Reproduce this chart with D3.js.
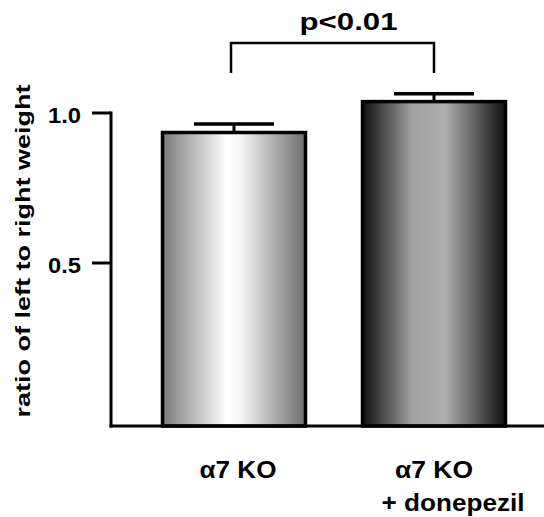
<!DOCTYPE html>
<html>
<head>
<meta charset="utf-8">
<script src="https://cdn.jsdelivr.net/npm/d3@7"></script>
<style>
body { margin: 0; background: #fff; }
text { font-family: Arial, "Liberation Sans", sans-serif; font-weight: bold; }
</style>
</head>
<body>
<div id="viz"></div>
<script>
var groups = ["a7ko", "a7ko_donepezil"];
var groupLabels = [["\u03b17 KO"], ["\u03b17 KO", "+ donepezil"]];
var means = [0.94, 1.043];
var sems = [0.023, 0.021];
var yTicks = [0.5, 1.0];
var pText = "p<0.01";
var yTitle = "ratio of left to right weight";

var width = 544, height = 517;

var svg = d3.select("#viz")
        .append("svg")
        .attr("width", width)
        .attr("height", height);

var defs = svg.append("defs");
var g1 = defs.append("linearGradient").attr("id", "grad0");
[["0%", "#7a7a7a"], ["45%", "#ffffff"], ["55%", "#f4f4f4"], ["100%", "#6c6c6c"]].forEach(function(s) {
    g1.append("stop").attr("offset", s[0]).attr("stop-color", s[1]);
});
var g2 = defs.append("linearGradient").attr("id", "grad1");
[["0%", "#0e0e0e"], ["35%", "#a2a2a2"], ["58%", "#adadad"], ["100%", "#111111"]].forEach(function(s) {
    g2.append("stop").attr("offset", s[0]).attr("stop-color", s[1]);
});

// the reference font is wide, so stretch text to the measured widths
function wide(sel, w) {
    return sel.attr("textLength", w).attr("lengthAdjust", "spacingAndGlyphs");
}

// y scale: 0 sits a bit above the drawn x-axis line
var y = d3.scaleLinear().domain([0, 1]).range([413, 113]);
var baseY = 426;
var axisX = 111;

var x = d3.scaleBand().domain(groups).range([111, 557]).paddingInner(0.27).paddingOuter(0.25);
function cx(i) { return x(groups[i]) + x.bandwidth() / 2; }

// bars
svg.selectAll("rect.bar")
    .data(means)
    .enter()
    .append("rect")
    .attr("class", "bar")
    .attr("x", function(d, i) { return x(groups[i]) + 1.5; })
    .attr("y", function(d) { return y(d) + 1.5; })
    .attr("width", x.bandwidth() - 3)
    .attr("height", function(d) { return baseY - y(d) - 1.5; })
    .style("fill", function(d, i) { return "url(#grad" + i + ")"; })
    .style("stroke", "black")
    .style("stroke-width", 3.5);

// error bars
var eb = svg.selectAll("g.err")
    .data(means)
    .enter()
    .append("g")
    .attr("class", "err");
eb.append("line")
    .attr("x1", function(d, i) { return cx(i); })
    .attr("x2", function(d, i) { return cx(i); })
    .attr("y1", function(d) { return y(d); })
    .attr("y2", function(d, i) { return y(d + sems[i]); })
    .style("stroke", "black").style("stroke-width", 3);
eb.append("line")
    .attr("x1", function(d, i) { return cx(i) - 40; })
    .attr("x2", function(d, i) { return cx(i) + 40; })
    .attr("y1", function(d, i) { return y(d + sems[i]); })
    .attr("y2", function(d, i) { return y(d + sems[i]); })
    .style("stroke", "black").style("stroke-width", 3.5);

// axes
svg.append("line")
    .attr("x1", axisX).attr("x2", axisX)
    .attr("y1", y(1.0) - 1.5).attr("y2", baseY + 1.5)
    .style("stroke", "black").style("stroke-width", 3);
svg.append("line")
    .attr("x1", axisX - 1.5).attr("x2", width)
    .attr("y1", baseY).attr("y2", baseY)
    .style("stroke", "black").style("stroke-width", 3);

svg.selectAll("line.tick")
    .data(yTicks)
    .enter()
    .append("line")
    .attr("class", "tick")
    .attr("x1", axisX - 19).attr("x2", axisX)
    .attr("y1", function(d) { return y(d); })
    .attr("y2", function(d) { return y(d); })
    .style("stroke", "black").style("stroke-width", 3);

wide(svg.selectAll("text.ytick")
    .data(yTicks)
    .enter()
    .append("text")
    .attr("class", "ytick")
    .attr("x", 81)
    .attr("y", function(d) { return y(d) + 10; })
    .attr("text-anchor", "end")
    .style("font-size", "22px")
    .text(function(d) { return d3.format(".1f")(d); }), 33);

wide(svg.append("text")
    .attr("transform", "translate(30,251) rotate(-90)")
    .attr("text-anchor", "middle")
    .style("font-size", "21px")
    .text(yTitle), 333);

// x labels
var lblX = [[238], [434, 453]];
var lblW = [[77], [78, 143]];
groupLabels.forEach(function(lines, i) {
    lines.forEach(function(s, j) {
        wide(svg.append("text")
            .attr("x", lblX[i][j])
            .attr("y", 478 + j * 33)
            .attr("text-anchor", "middle")
            .style("font-size", "23px")
            .text(s), lblW[i][j]);
    });
});

// significance bracket
var bx1 = cx(0) - 3;
var bx2 = cx(1);
svg.append("path")
    .attr("d", "M" + bx1 + ",73V43H" + bx2 + "V73")
    .style("fill", "none").style("stroke", "black").style("stroke-width", 2.5);
wide(svg.append("text")
    .attr("x", (bx1 + bx2) / 2 + 16)
    .attr("y", 30)
    .attr("text-anchor", "middle")
    .style("font-size", "23px")
    .text(pText), 98);
</script>
</body>
</html>
